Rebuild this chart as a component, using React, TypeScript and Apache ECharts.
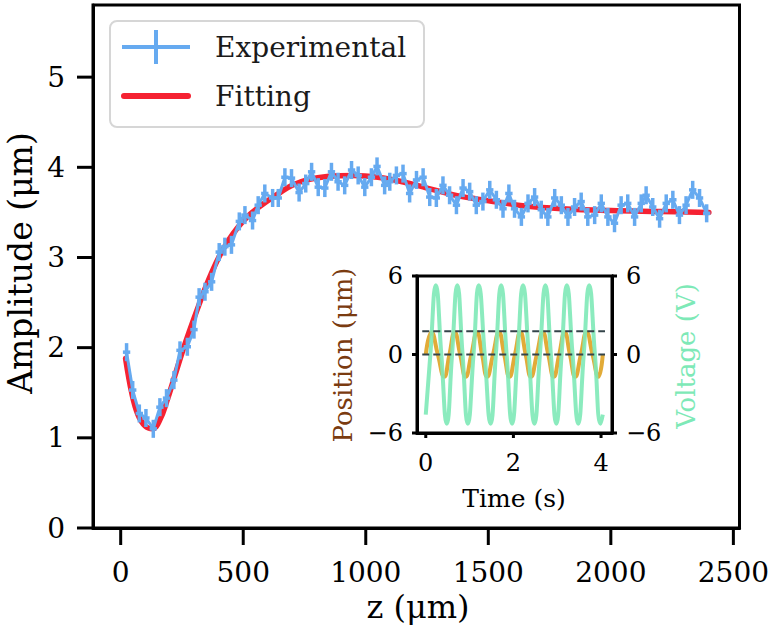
import React, { useEffect, useRef } from "react";
import * as echarts from "echarts";

// ---------- Main panel data ----------
const EXP_Z = [
  24, 49, 76, 103, 133, 160, 187, 217, 242, 272, 299, 320, 344, 371, 402, 425, 452, 484, 507, 538,
  561, 588, 620, 643, 670, 697, 728, 755, 779, 806, 833, 860, 887, 914, 942, 969, 996, 1023, 1046,
  1077, 1098, 1125, 1152, 1179, 1207, 1234, 1261, 1288, 1315, 1342, 1370, 1397, 1424, 1451, 1478,
  1506, 1533, 1560, 1584, 1607, 1635, 1662, 1689, 1716, 1743, 1771, 1798, 1825, 1852, 1879, 1906,
  1934, 1961, 1988, 2015, 2042, 2069, 2097, 2124, 2144, 2171, 2199, 2226, 2253, 2280, 2307, 2334,
  2362, 2391,
];
const EXP_A = [
  1.95, 1.53, 1.27, 1.22, 1.1, 1.34, 1.44, 1.64, 1.97, 2.01, 2.2, 2.56, 2.62, 2.73, 3.06, 3.12, 3.14,
  3.4, 3.47, 3.41, 3.58, 3.71, 3.66, 3.66, 3.89, 3.88, 3.72, 3.82, 3.95, 3.78, 3.77, 3.95, 3.84, 3.8,
  3.97, 3.91, 3.78, 3.89, 4.01, 3.8, 3.84, 3.91, 3.93, 3.71, 3.86, 3.89, 3.67, 3.66, 3.8, 3.69, 3.58,
  3.77, 3.73, 3.58, 3.62, 3.75, 3.64, 3.54, 3.71, 3.54, 3.45, 3.6, 3.67, 3.53, 3.45, 3.66, 3.58, 3.45,
  3.56, 3.62, 3.45, 3.47, 3.6, 3.45, 3.38, 3.58, 3.6, 3.45, 3.6, 3.69, 3.56, 3.43, 3.6, 3.64, 3.47,
  3.58, 3.75, 3.66, 3.49,
];
const Y_ERR = 0.1;
const X_ERR = 15;

const FIT_Z = [
  20, 45, 70, 100, 130, 160, 190, 220, 250, 280, 320, 360, 400, 440, 480, 520, 560, 600, 650, 700,
  760, 850, 950, 1050, 1150, 1250, 1350, 1450, 1550, 1650, 1800, 2000, 2200, 2400,
];
const FIT_A = [
  1.88, 1.5, 1.26, 1.13, 1.1, 1.2, 1.42, 1.68, 1.94, 2.18, 2.48, 2.76, 3.0, 3.19, 3.34, 3.46, 3.55,
  3.63, 3.72, 3.8, 3.86, 3.9, 3.91, 3.89, 3.84, 3.77, 3.7, 3.65, 3.61, 3.57, 3.54, 3.52, 3.51, 3.5,
];

const X_TICKS = [0, 500, 1000, 1500, 2000, 2500];
const Y_TICKS = [0, 1, 2, 3, 4, 5];
const X_RANGE = [-113, 2525];
const Y_RANGE = [0, 5.8];

// ---------- Inset data ----------
const VOLT_T = [
  0.0, 0.105, 0.23, 0.355, 0.48, 0.6, 0.72, 0.84, 0.96, 1.09, 1.21, 1.345, 1.48, 1.6, 1.72, 1.845,
  1.97, 2.095, 2.22, 2.35, 2.48, 2.605, 2.73, 2.855, 2.98, 3.1, 3.22, 3.35, 3.48, 3.605, 3.73, 3.86,
  3.99, 4.04,
];
const VOLT_V = [
  -4.6, 0, 5.3, 0, -5.3, 0, 5.3, 0, -5.3, 0, 5.3, 0, -5.3, 0, 5.3, 0, -5.3, 0, 5.3, 0, -5.3, 0, 5.3,
  0, -5.3, 0, 5.3, 0, -5.3, 0, 5.3, 0, -5.3, -4.6,
];
const POS_T = [
  0.0, 0.13, 0.275, 0.42, 0.54, 0.66, 0.785, 0.91, 1.04, 1.17, 1.285, 1.4, 1.535, 1.67, 1.79, 1.91,
  2.035, 2.16, 2.28, 2.4, 2.535, 2.67, 2.795, 2.92, 3.045, 3.17, 3.29, 3.41, 3.54, 3.67, 3.805, 3.94,
  4.04,
];
const POS_P = [
  0, 1.7, 0, -1.7, 0, 1.7, 0, -1.7, 0, 1.7, 0, -1.7, 0, 1.7, 0, -1.7, 0, 1.7, 0, -1.7, 0, 1.7, 0,
  -1.7, 0, 1.7, 0, -1.7, 0, 1.7, 0, -1.7, 0,
];
const DASH_LEVELS = [0, 1.78];
const DASH_T = [-0.08, 4.09];
const T_TICKS = [0, 2, 4];
const INSET_Y_TICKS = [-6, 0, 6];
const T_RANGE = [-0.2, 4.25];
const INSET_Y_RANGE = [-6, 6];

// ---------- Layout ----------
const MAIN_BOX = { left: 93, top: 5, width: 647, height: 523 };
const INSET_BOX = { left: 417, top: 276, width: 195, height: 157 };

const FONT = '"DejaVu Serif", "Liberation Serif", serif';
const BLUE = "#66aaf0";
const RED = "#f52232";
const ORANGE = "#e2ab38";
const GREEN = "#7ee9b7";
const BROWN = "#7a3b10";

const minusFmt = (v: number) => (v < 0 ? "\u2212" + Math.abs(v) : String(v));
const plainFmt = (v: number) => String(v);

export default function App() {
  const ref = useRef<HTMLDivElement>(null);

  useEffect(() => {
    if (!ref.current) return;
    const chart = echarts.init(ref.current, undefined, { renderer: "svg" });

    const spine = { show: true, onZero: false, lineStyle: { color: "#000", width: 3 } };
    const label = (vals: number[], size: number, margin: number, fmt: any) => ({
      customValues: vals,
      formatter: fmt,
      fontSize: size,
      margin,
      color: "#000",
      fontFamily: FONT,
    });

    const textEl = (
      text: string,
      x: number,
      y: number,
      size: number,
      fill: string,
      align: string,
      rotation = 0,
      z = 11
    ) => ({
      type: "text",
      x,
      y,
      rotation,
      z,
      style: {
        text,
        font: `${size}px ${FONT}`,
        fill,
        align,
        verticalAlign: "middle",
        textAlign: align,
        textVerticalAlign: "middle",
      },
    });

    const graphic: any[] = [
      {
        type: "rect",
        shape: { x: 110, y: 21, width: 314, height: 106, r: 7 },
        style: { fill: "rgba(255,255,255,0.85)", stroke: "#d6d6d6", lineWidth: 2 },
        z: 10,
      },
      {
        type: "line",
        shape: { x1: 122, y1: 47, x2: 190, y2: 47 },
        style: { stroke: BLUE, lineWidth: 4 },
        z: 11,
      },
      {
        type: "line",
        shape: { x1: 156, y1: 30, x2: 156, y2: 64 },
        style: { stroke: BLUE, lineWidth: 4 },
        z: 11,
      },
      {
        type: "line",
        shape: { x1: 124, y1: 96, x2: 188, y2: 96 },
        style: { stroke: RED, lineWidth: 6, lineCap: "round" },
        z: 11,
      },
      textEl("Experimental", 215, 47, 28, "#1a1a1a", "left"),
      textEl("Fitting", 215, 96, 28, "#1a1a1a", "left"),
      textEl("Amplitude (μm)", 20, 263, 33, "#000", "center", Math.PI / 2),
      textEl("z (μm)", 418, 607, 32, "#000", "center"),
      textEl("Position (μm)", 343, 355, 26, BROWN, "center", Math.PI / 2),
      textEl("Voltage (V)", 686, 356, 26, GREEN, "center", Math.PI / 2),
      textEl("Time (s)", 514, 498, 25, "#000", "center"),
    ];

    // Tick marks drawn as small filled rects through the axes' own scales
    const tickSeries = (
      xIdx: number,
      yIdx: number,
      pts: number[][],
      dir: "down" | "left" | "right",
      len: number
    ) => ({
      type: "custom",
      xAxisIndex: xIdx,
      yAxisIndex: yIdx,
      silent: true,
      clip: false,
      z: 20,
      data: pts,
      renderItem: (_p: any, api: any) => {
        const c = api.coord([api.value(0), api.value(1)]);
        let shape;
        if (dir === "down") shape = { x: c[0] - 1.5, y: c[1], width: 3, height: len };
        else if (dir === "left") shape = { x: c[0] - len, y: c[1] - 1.5, width: len, height: 3 };
        else shape = { x: c[0], y: c[1] - 1.5, width: len, height: 3 };
        return { type: "rect", shape, style: { fill: "#000" } };
      },
    });

    const option: any = {
      animation: false,
      backgroundColor: "#fff",
      textStyle: { fontFamily: FONT },
      grid: [
        {
          ...MAIN_BOX,
          show: true,
          borderColor: "#000",
          borderWidth: 3,
          backgroundColor: "transparent",
        },
        {
          ...INSET_BOX,
          show: true,
          borderColor: "#000",
          borderWidth: 3,
          backgroundColor: "#fff",
        },
      ],
      xAxis: [
        {
          type: "value",
          gridIndex: 0,
          position: "bottom",
          min: X_RANGE[0],
          max: X_RANGE[1],
          axisLine: spine,
          splitLine: { show: false },
          axisTick: { show: false },
          axisLabel: label(X_TICKS, 28, 30, plainFmt),
        },
        {
          type: "value",
          gridIndex: 1,
          position: "bottom",
          min: T_RANGE[0],
          max: T_RANGE[1],
          axisLine: spine,
          splitLine: { show: false },
          axisTick: { show: false },
          axisLabel: label(T_TICKS, 24, 18, plainFmt),
        },
      ],
      yAxis: [
        {
          type: "value",
          gridIndex: 0,
          position: "left",
          min: Y_RANGE[0],
          max: Y_RANGE[1],
          axisLine: spine,
          splitLine: { show: false },
          axisTick: { show: false },
          axisLabel: label(Y_TICKS, 28, 28, plainFmt),
        },
        {
          type: "value",
          gridIndex: 1,
          position: "left",
          min: INSET_Y_RANGE[0],
          max: INSET_Y_RANGE[1],
          axisLine: spine,
          splitLine: { show: false },
          axisTick: { show: false },
          axisLabel: label(INSET_Y_TICKS, 24, 14, minusFmt),
        },
        {
          type: "value",
          gridIndex: 1,
          position: "right",
          min: INSET_Y_RANGE[0],
          max: INSET_Y_RANGE[1],
          axisLine: spine,
          splitLine: { show: false },
          axisTick: { show: false },
          axisLabel: label(INSET_Y_TICKS, 24, 14, minusFmt),
        },
      ],
      series: [
        {
          name: "Fitting",
          type: "line",
          xAxisIndex: 0,
          yAxisIndex: 0,
          clip: false,
          data: FIT_Z.map((z, i) => [z, FIT_A[i]]),
          smooth: 0.4,
          showSymbol: false,
          lineStyle: { color: RED, width: 5.5, cap: "round" },
          z: 2,
        },
        {
          name: "Experimental",
          type: "line",
          xAxisIndex: 0,
          yAxisIndex: 0,
          clip: false,
          data: EXP_Z.map((z, i) => [z, EXP_A[i]]),
          showSymbol: false,
          lineStyle: { color: BLUE, width: 3 },
          z: 3,
        },
        {
          name: "Errors",
          type: "custom",
          xAxisIndex: 0,
          yAxisIndex: 0,
          clip: false,
          data: EXP_Z.map((z, i) => [z, EXP_A[i]]),
          renderItem: (_params: any, api: any) => {
            const z = api.value(0);
            const a = api.value(1);
            const top = api.coord([z, a + Y_ERR]);
            const bot = api.coord([z, a - Y_ERR]);
            const l = api.coord([z - X_ERR, a]);
            const r = api.coord([z + X_ERR, a]);
            return {
              type: "group",
              children: [
                {
                  type: "line",
                  shape: { x1: top[0], y1: top[1], x2: bot[0], y2: bot[1] },
                  style: { stroke: BLUE, lineWidth: 3.5 },
                },
                {
                  type: "line",
                  shape: { x1: l[0], y1: l[1], x2: r[0], y2: r[1] },
                  style: { stroke: BLUE, lineWidth: 3.5 },
                },
              ],
            };
          },
          z: 4,
        },
        {
          name: "Position",
          type: "line",
          xAxisIndex: 1,
          yAxisIndex: 1,
          clip: false,
          data: POS_T.map((t, i) => [t, POS_P[i]]),
          smooth: 0.5,
          showSymbol: false,
          lineStyle: { color: ORANGE, width: 4 },
          z: 5,
        },
        {
          name: "Voltage",
          type: "line",
          xAxisIndex: 1,
          yAxisIndex: 2,
          clip: false,
          data: VOLT_T.map((t, i) => [t, VOLT_V[i]]),
          smooth: 0.5,
          showSymbol: false,
          lineStyle: { color: GREEN, width: 4, opacity: 0.9 },
          z: 6,
        },
        ...DASH_LEVELS.map((lv, k) => ({
          name: "Dash" + k,
          type: "line",
          xAxisIndex: 1,
          yAxisIndex: 1,
          clip: false,
          data: DASH_T.map((t) => [t, lv]),
          showSymbol: false,
          lineStyle: { color: "#34444a", width: 2, type: [7, 4] },
          z: 7,
        })),
        tickSeries(0, 0, X_TICKS.map((v) => [v, Y_RANGE[0]]), "down", 17),
        tickSeries(0, 0, Y_TICKS.map((v) => [X_RANGE[0], v]), "left", 16),
        tickSeries(1, 1, T_TICKS.map((v) => [v, INSET_Y_RANGE[0]]), "down", 5),
        tickSeries(1, 1, INSET_Y_TICKS.map((v) => [T_RANGE[0], v]), "left", 5),
        tickSeries(1, 2, INSET_Y_TICKS.map((v) => [T_RANGE[1], v]), "right", 5),
      ],
      graphic,
    };

    chart.setOption(option);
    return () => chart.dispose();
  }, []);

  return (
    <div
      ref={ref}
      style={{ position: "fixed", left: 0, top: 0, width: 772, height: 634, background: "#fff" }}
    />
  );
}
